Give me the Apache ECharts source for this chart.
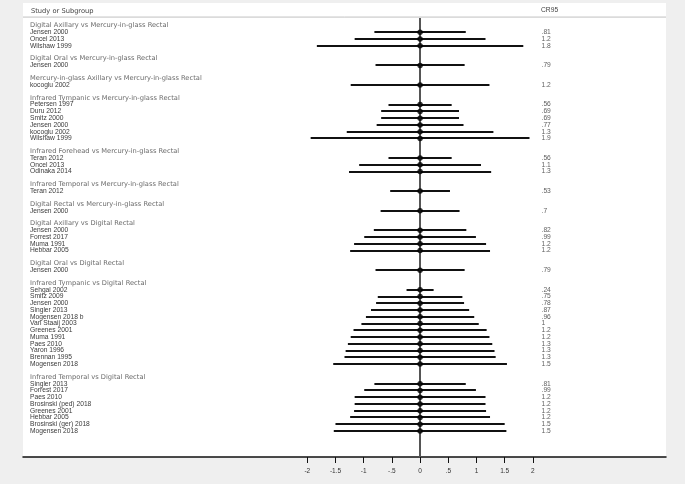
<!DOCTYPE html>
<html>
<head>
<meta charset="utf-8">
<script src="https://cdn.jsdelivr.net/npm/echarts@6/dist/echarts.min.js"></script>
<style>
  html, body { margin: 0; padding: 0; background: #efefef; }
  #chart { width: 685px; height: 484px; }
</style>
</head>
<body>
<div id="chart"></div>
<script>
// subgroup titles, in display order
const groupNames = [
  'Digital Axillary vs Mercury-in-glass Rectal',
  'Digital Oral vs Mercury-in-glass Rectal',
  'Mercury-in-glass Axillary vs Mercury-in-glass Rectal',
  'Infrared Tympanic vs Mercury-in-glass Rectal',
  'Infrared Forehead vs Mercury-in-glass Rectal',
  'Infrared Temporal vs Mercury-in-glass Rectal',
  'Digital Rectal vs Mercury-in-glass Rectal',
  'Digital Axillary vs Digital Rectal',
  'Digital Oral vs Digital Rectal',
  'Infrared Tympanic vs Digital Rectal',
  'Infrared Temporal vs Digital Rectal'
]

const groupStudies = [
  ['Jensen 2000', 'Oncel 2013', 'Wilshaw 1999'],
  ['Jensen 2000'],
  ['kocoglu 2002'],
  ['Petersen 1997', 'Duru 2012', 'Smitz 2000', 'Jensen 2000', 'kocoglu 2002', 'Wilshaw 1999'],
  ['Teran 2012', 'Oncel 2013', 'Odinaka 2014'],
  ['Teran 2012'],
  ['Jensen 2000'],
  ['Jensen 2000', 'Forrest 2017', 'Muma 1991', 'Hebbar 2005'],
  ['Jensen 2000'],
  ['Sehgal 2002', 'Smitz 2009', 'Jensen 2000', 'Singler 2013', 'Mogensen 2018 b', 'Van Staaij 2003',
   'Greenes 2001', 'Muma 1991', 'Paes 2010', 'Yaron 1996', 'Brennan 1995', 'Mogensen 2018'],
  ['Singler 2013', 'Forrest 2017', 'Paes 2010', 'Brosinski (ped) 2018', 'Greenes 2001', 'Hebbar 2005',
   'Brosinski (ger) 2018', 'Mogensen 2018']
]

// 95% coefficient of repeatability (half width of each bar)
const groupCR = [
  [0.81, 1.16, 1.83],
  [0.79],
  [1.23],
  [0.56, 0.69, 0.69, 0.77, 1.3, 1.94],
  [0.56, 1.08, 1.26],
  [0.53],
  [0.7],
  [0.82, 0.99, 1.17, 1.24],
  [0.79],
  [0.24, 0.75, 0.78, 0.87, 0.96, 1.04, 1.18, 1.23, 1.28, 1.32, 1.34, 1.54],
  [0.81, 0.99, 1.16, 1.16, 1.17, 1.24, 1.5, 1.53]
]

const xTicks = [-2, -1.5, -1, -0.5, 0, 0.5, 1, 1.5, 2]

const X_MIN = -7.04
const X_MAX = 4.36
const CR_COL = 2.1
const GROUP_GAP = 0.9

const fmtShort = v => String(v).replace('0.', '.')
const fmtCR = v => {
  let s = v < 1 ? v.toFixed(2) : v.toFixed(1)
  s = s.replace(/\.?0+$/, '')
  return s.replace(/^0\./, '.')
}

const headerRows = []
const studyRows = []
const barRows = []
const dotRows = []
const crRows = []
let row = 0
groupNames.forEach((g, gi) => {
  headerRows.push([X_MIN, row, g])
  row += 1
  groupStudies[gi].forEach((s, si) => {
    const cr = groupCR[gi][si]
    studyRows.push([X_MIN, row, s])
    barRows.push([-cr, row, cr])
    dotRows.push([0, row])
    crRows.push([CR_COL, row, fmtCR(cr)])
    row += 1
  })
  row += GROUP_GAP
})

const chart = echarts.init(document.getElementById('chart'))

const textLabel = (font, size, color) => ({
  show: true,
  position: 'right',
  distance: 7,
  fontFamily: font,
  fontSize: size,
  color: color,
  formatter: p => p.data[2]
})

chart.setOption({
  backgroundColor: '#efefef',
  animation: false,
  grid: {
    left: 23, right: 19, top: 18, bottom: 27,
    show: true, backgroundColor: '#fff', borderWidth: 0
  },
  xAxis: {
    type: 'value',
    min: X_MIN,
    max: X_MAX,
    splitLine: { show: false },
    axisLine: { show: true, onZero: false, lineStyle: { color: '#111', width: 1.5 } },
    axisTick: { show: true, customValues: xTicks, length: 6, lineStyle: { color: '#111', width: 1 } },
    axisLabel: {
      customValues: xTicks,
      formatter: v => fmtShort(v),
      fontFamily: 'Liberation Sans',
      fontSize: 6.5,
      color: '#333',
      margin: 11
    }
  },
  yAxis: {
    type: 'value',
    inverse: true,
    min: -1.12,
    max: 63.85,
    show: false
  },
  graphic: [
    { type: 'rect', shape: { x: 23, y: 3, width: 643, height: 14 }, style: { fill: '#fff' }, silent: true },
    { type: 'line', shape: { x1: 23, y1: 17, x2: 666, y2: 17 }, style: { stroke: '#c8c8c8', lineWidth: 1 }, silent: true },
    {
      type: 'text', x: 31, y: 11,
      style: { text: 'Study or Subgroup', fontFamily: 'DejaVu Sans', fontSize: 6.7, fill: '#444', verticalAlign: 'middle' }
    },
    {
      type: 'text', x: 541, y: 10,
      style: { text: 'CR95', fontFamily: 'Liberation Sans', fontSize: 6.7, fill: '#444', verticalAlign: 'middle' }
    }
  ],
  series: [
    {
      // no-effect line at 0
      type: 'scatter',
      data: [],
      z: 1,
      markLine: {
        silent: true,
        symbol: 'none',
        label: { show: false },
        lineStyle: { color: '#555', width: 2, type: 'solid' },
        data: [{ xAxis: 0 }]
      }
    },
    {
      type: 'custom',
      data: barRows,
      renderItem: (params, api) => {
        const y = api.value(1)
        const lo = api.coord([api.value(0), y])
        const hi = api.coord([api.value(2), y])
        // snap to whole pixels so the 2px bars stay crisp
        const py = Math.round(lo[1])
        return {
          type: 'line',
          shape: { x1: lo[0], y1: py, x2: hi[0], y2: py },
          style: { stroke: '#111', lineWidth: 2 }
        }
      },
      z: 3
    },
    {
      type: 'scatter',
      data: dotRows,
      symbol: 'circle',
      symbolSize: 5.5,
      itemStyle: { color: '#000' },
      z: 5
    },
    {
      type: 'scatter',
      data: headerRows,
      symbolSize: 0,
      label: textLabel('DejaVu Sans', 6.7, '#444')
    },
    {
      type: 'scatter',
      data: studyRows,
      symbolSize: 0,
      label: textLabel('Liberation Sans', 6.7, '#000')
    },
    {
      type: 'scatter',
      data: crRows,
      symbolSize: 0,
      label: Object.assign(textLabel('Liberation Sans', 6.7, '#333'), { distance: 3 })
    }
  ]
})

window.addEventListener('resize', () => chart.resize())
</script>
</body>
</html>
